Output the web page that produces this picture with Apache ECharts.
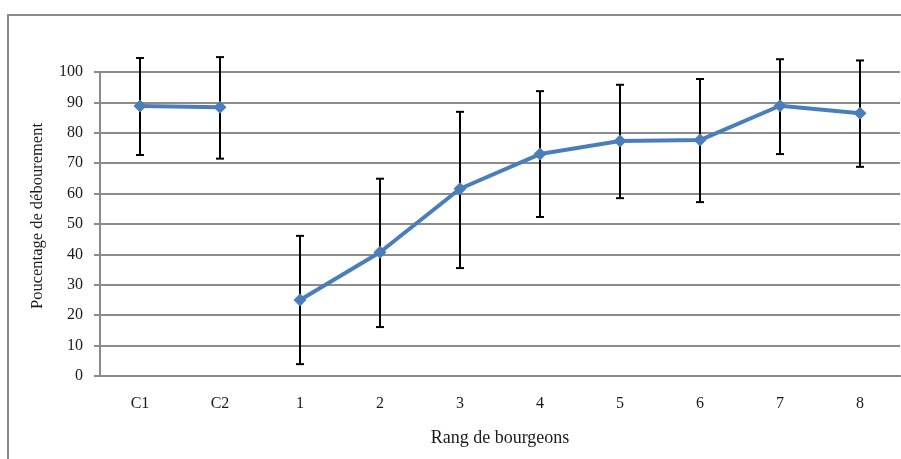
<!DOCTYPE html>
<html>
<head>
<meta charset="utf-8">
<script src="https://cdn.jsdelivr.net/npm/echarts@6/dist/echarts.min.js"></script>
<style>
  html, body { margin: 0; padding: 0; background: #ffffff; }
  #chart { width: 901px; height: 459px; }
</style>
</head>
<body>
<div id="chart"></div>
<script>
// Bud rank categories (controls C1, C2, then ranks 1-8)
const categories = ['C1', 'C2', '1', '2', '3', '4', '5', '6', '7', '8'];
// Mean budburst percentage per rank
const meanValues = [88.8, 88.4, 25.0, 40.7, 61.6, 73.0, 77.3, 77.6, 88.9, 86.4];
// Error bar extents (lower and upper ends)
const lowerValues = [72.7, 71.5, 3.9, 16.1, 35.5, 52.3, 58.5, 57.2, 73.0, 68.8];
const upperValues = [104.6, 104.9, 46.1, 64.9, 86.9, 93.7, 95.8, 97.7, 104.2, 103.8];
// Number of control categories at the start (drawn as a separate line)
const controlCount = 2;

const serif = '"Liberation Serif", "Times New Roman", serif';
const chart = echarts.init(document.getElementById('chart'), null, { renderer: 'canvas' });

const errorData = categories.map((c, i) => [i, lowerValues[i], upperValues[i]]);
const controlLine = meanValues.map((v, i) => (i < controlCount ? v : '-'));
const rankLine = meanValues.map((v, i) => (i >= controlCount ? v : '-'));

const lineStyle = { color: '#4a7ebb', width: 4 };
const itemStyle = { color: '#4a7ebb' };

chart.setOption({
  animation: false,
  backgroundColor: '#ffffff',
  graphic: [
    {
      type: 'rect',
      shape: { x: 8, y: 15, width: 1000, height: 600 },
      style: { fill: 'none', stroke: '#8a8a8a', lineWidth: 2 },
      silent: true, z: -1
    },
    {
      type: 'text',
      x: 38, y: 216, rotation: Math.PI / 2,
      style: {
        text: 'Poucentage de débourement',
        font: '16.5px ' + serif, fill: '#1a1a1a',
        align: 'center', verticalAlign: 'middle'
      }
    },
    {
      type: 'text',
      x: 500, y: 438,
      style: {
        text: 'Rang de bourgeons',
        font: '18px ' + serif, fill: '#1a1a1a',
        align: 'center', verticalAlign: 'middle'
      }
    }
  ],
  grid: { left: 100, right: 1, top: 72, bottom: 83, containLabel: false },
  xAxis: {
    type: 'category',
    data: categories,
    boundaryGap: true,
    axisLine: { lineStyle: { color: '#8a8a8a', width: 2 } },
    axisTick: { alignWithLabel: true, length: 4, lineStyle: { color: '#8a8a8a', width: 1.5 } },
    axisLabel: { color: '#1a1a1a', fontFamily: serif, fontSize: 16, margin: 20 },
    splitLine: { show: false }
  },
  yAxis: {
    type: 'value',
    min: 0, max: 100, interval: 10,
    axisLine: { show: true, lineStyle: { color: '#8a8a8a', width: 2 } },
    axisTick: { show: true, inside: false, length: 6, lineStyle: { color: '#8a8a8a', width: 2 } },
    axisLabel: { color: '#1a1a1a', fontFamily: serif, fontSize: 16, margin: 17 },
    splitLine: { show: true, lineStyle: { color: '#8c8c8c', width: 2 } }
  },
  series: [
    {
      type: 'custom',
      name: 'erreur',
      clip: false,
      z: 2,
      data: errorData,
      renderItem: function (params, api) {
        const x = api.value(0);
        const lo = api.coord([x, api.value(1)]);
        const hi = api.coord([x, api.value(2)]);
        const cap = 4;
        const st = { stroke: '#000', lineWidth: 2 };
        return {
          type: 'group',
          children: [
            { type: 'line', shape: { x1: lo[0], y1: lo[1], x2: hi[0], y2: hi[1] }, style: st },
            { type: 'line', shape: { x1: hi[0] - cap, y1: hi[1], x2: hi[0] + cap, y2: hi[1] }, style: st },
            { type: 'line', shape: { x1: lo[0] - cap, y1: lo[1], x2: lo[0] + cap, y2: lo[1] }, style: st }
          ]
        };
      }
    },
    {
      type: 'line', name: 'témoins', z: 3,
      data: controlLine,
      symbol: 'diamond', symbolSize: 13,
      lineStyle: lineStyle, itemStyle: itemStyle
    },
    {
      type: 'line', name: 'rangs', z: 3,
      data: rankLine,
      symbol: 'diamond', symbolSize: 13,
      lineStyle: lineStyle, itemStyle: itemStyle
    }
  ]
});
</script>
</body>
</html>
